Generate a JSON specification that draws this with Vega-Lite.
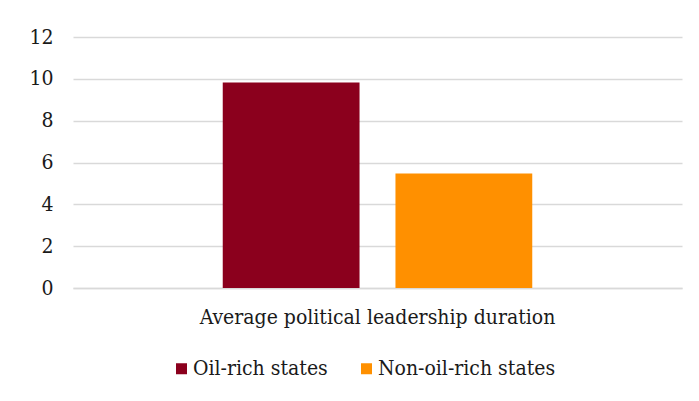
{
  "$schema": "https://vega.github.io/schema/vega-lite/v6.json",
  "width": 609,
  "height": 251,
  "autosize": "none",
  "padding": {"left": 73, "top": 37, "right": 17, "bottom": 113},
  "background": "white",
  "config": {
    "font": "DejaVu Serif Condensed",
    "view": {"stroke": null},
    "axis": {"labelFont": "DejaVu Serif Condensed", "labelColor": "#1a1a1a", "labelLimit": 0},
    "legend": {"labelFont": "DejaVu Serif Condensed", "labelColor": "#1a1a1a", "labelLimit": 0}
  },
  "data": {
    "values": [
      {"category": "Average political leadership duration", "group": "Oil-rich states", "value": 9.82},
      {"category": "Average political leadership duration", "group": "Non-oil-rich states", "value": 5.47}
    ]
  },
  "mark": {"type": "bar"},
  "encoding": {
    "x": {
      "field": "category",
      "type": "nominal",
      "scale": {"paddingInner": 0, "paddingOuter": 0},
      "axis": {
        "title": null,
        "labelAngle": 0,
        "labelFontSize": 21,
        "labelPadding": 18,
        "ticks": false,
        "domain": true,
        "domainColor": "#D9D9D9",
        "domainWidth": 1.3
      }
    },
    "xOffset": {
      "field": "group",
      "type": "nominal",
      "sort": ["Oil-rich states", "Non-oil-rich states"],
      "scale": {"paddingInner": 0.208, "paddingOuter": 0.867}
    },
    "y": {
      "field": "value",
      "type": "quantitative",
      "scale": {"domain": [0, 12]},
      "axis": {
        "title": null,
        "values": [0, 2, 4, 6, 8, 10, 12],
        "labelFontSize": 21,
        "labelPadding": 20,
        "ticks": false,
        "domain": false,
        "gridColor": "#D9D9D9",
        "gridWidth": 1.3
      }
    },
    "color": {
      "field": "group",
      "type": "nominal",
      "sort": ["Oil-rich states", "Non-oil-rich states"],
      "scale": {"domain": ["Oil-rich states", "Non-oil-rich states"], "range": ["#8B001D", "#FF9000"]},
      "legend": {
        "title": null,
        "orient": "none",
        "direction": "horizontal",
        "legendX": 98,
        "legendY": 321,
        "symbolType": "square",
        "symbolSize": 121,
        "symbolStrokeWidth": 0,
        "labelFontSize": 21,
        "labelOffset": 1,
        "columnPadding": 28
      }
    }
  }
}
